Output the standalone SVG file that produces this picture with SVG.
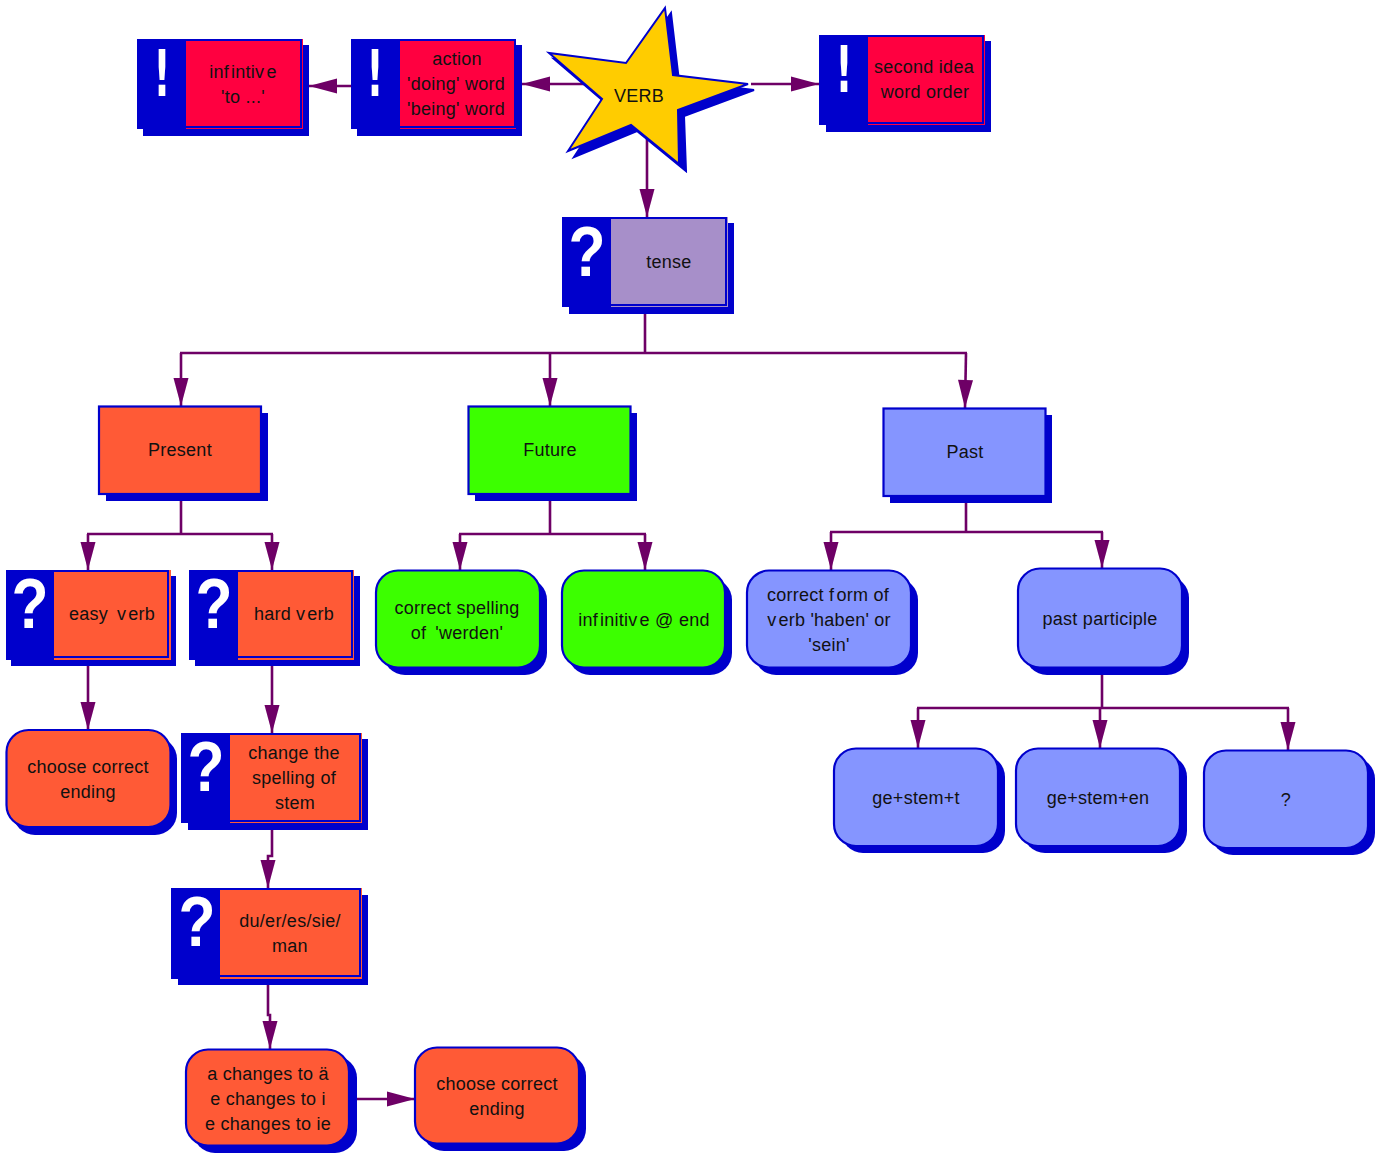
<svg xmlns="http://www.w3.org/2000/svg" width="1386" height="1153" viewBox="0 0 1386 1153">
<style>
text{font-family:"Liberation Sans",Arial,sans-serif;font-size:18px;fill:#111;text-anchor:middle;letter-spacing:.25px}
.s{fill:#0000cc}
.b{fill:#0000cc}
.o{stroke:#0000cc;stroke-width:2.200}
.red{fill:#ff0040}.org{fill:#ff5a36}.lil{fill:#a78fc9}.grn{fill:#3cff00}.blu{fill:#8595ff}.yel{fill:#ffcc00}
.f{fill:none;stroke:#0000cc;stroke-width:2}
text.g{font-family:"DejaVu Sans",sans-serif;font-weight:bold;fill:#fff;letter-spacing:0}
text.e{font-size:64px}
text.q{font-family:"Liberation Sans",sans-serif;font-size:70px}
.c{fill:none;stroke:#6e0066;stroke-width:2.600;marker-end:url(#a)}
.n{fill:none;stroke:#6e0066;stroke-width:2.600}
</style>
<defs>
<marker id="a" markerUnits="userSpaceOnUse" markerWidth="30" markerHeight="16" refX="28" refY="7.500" orient="auto" overflow="visible">
<path d="M0 0L28 7.500L0 15Z" fill="#6e0066"/>
</marker>
</defs>
<rect width="1386" height="1153" fill="#fff"/>
<g id="connectors">
<path class="c" d="M600 84H522"/>
<path class="c" d="M351 86H309"/>
<path class="c" d="M751 84H819"/>
<path class="c" d="M647 130V217"/>
<path class="n" d="M645 314V353M180 353H967"/>
<path class="c" d="M181 353V406"/>
<path class="c" d="M550 353V406"/>
<path class="c" d="M966 353L965 408"/>
<path class="n" d="M181 501V534M87 534H273"/>
<path class="c" d="M88 534V570"/>
<path class="c" d="M272 534V570"/>
<path class="n" d="M550 501V534M459 534H646"/>
<path class="c" d="M460 534V570"/>
<path class="c" d="M645 534V570"/>
<path class="n" d="M966 503V532M830 532H1103"/>
<path class="c" d="M831 532V570"/>
<path class="c" d="M1102 532V568"/>
<path class="n" d="M1102 675V708M917 708H1289"/>
<path class="c" d="M918 708V748"/>
<path class="c" d="M1100 708V748"/>
<path class="c" d="M1288 708V750"/>
<path class="c" d="M88 666V730"/>
<path class="c" d="M272 666V733"/>
<path class="c" d="M272 830V856H268V888"/>
<path class="c" d="M268 985V1015H270V1049"/>
<path class="c" d="M357 1099H415"/>
</g>
<g id="verb">
<path class="s" stroke="#0000cc" stroke-width="2" d="M671 13L679 81L754 90L684 116L686 171L637 131L574 157L608 105L554 59L632 69Z"/>
<path class="yel" stroke="#0000cc" stroke-width="2" d="M665 8L673 75L748 84L678 110L679 164L631 125L568 151L602 99L549 53L626 63Z"/>
<text x="639" y="102">VERB</text>
</g>
<g id="infintive">
<rect class="s" x="143" y="45" width="166" height="91"/><rect class="b" x="137" y="39" width="49" height="90"/><rect class="red" x="186" y="39" width="117" height="90"/><path class="f" d="M186 40H301V127H186"/>
<text class="g e" x="162" y="96" textLength="17" lengthAdjust="spacingAndGlyphs">!</text>
<text x="243" y="78">inf<tspan dx="2">intiv</tspan><tspan dx="2">e</tspan></text><text x="243" y="103">'to ...'</text>
</g>
<g id="action">
<rect class="s" x="357" y="45" width="165" height="91"/><rect class="b" x="351" y="39" width="49" height="90"/><rect class="red" x="400" y="39" width="116" height="90"/><path class="f" d="M400 40H515V127H400"/>
<text class="g e" x="375" y="96" textLength="17" lengthAdjust="spacingAndGlyphs">!</text>
<text x="457" y="65">action</text><text x="456" y="90">'doing' word</text><text x="456" y="115">'being' word</text>
</g>
<g id="second-idea">
<rect class="s" x="826" y="41" width="165" height="91"/><rect class="b" x="819" y="35" width="49" height="90"/><rect class="red" x="868" y="35" width="117" height="90"/><path class="f" d="M868 36H983V123H868"/>
<text class="g e" x="844" y="92" textLength="17" lengthAdjust="spacingAndGlyphs">!</text>
<text x="924" y="73">second idea</text><text x="925" y="98">word order</text>
</g>
<g id="tense">
<rect class="s" x="569" y="223" width="165" height="91"/><rect class="b" x="562" y="217" width="49" height="90"/><rect class="lil" x="611" y="217" width="117" height="90"/><path class="f" d="M611 218H726V305H611"/>
<text class="g q" x="587" y="276" textLength="37" lengthAdjust="spacingAndGlyphs">?</text>
<text x="669" y="268">tense</text>
</g>
<g id="present">
<rect class="s" x="106" y="413" width="162" height="88"/><rect class="org o" x="99" y="406.500" width="162" height="87.500"/>
<text x="180" y="456">Present</text>
</g>
<g id="future">
<rect class="s" x="475" y="413" width="162" height="88"/><rect class="grn o" x="468.500" y="406.500" width="162" height="87.500"/>
<text x="550" y="456">Future</text>
</g>
<g id="past">
<rect class="s" x="890" y="415" width="162" height="88"/><rect class="blu o" x="883.500" y="408.500" width="162" height="87.500"/>
<text x="965" y="458">Past</text>
</g>
<g id="easy-verb">
<rect class="s" x="11" y="576" width="165" height="90"/><rect class="b" x="6" y="570" width="48" height="90"/><rect class="org" x="54" y="570" width="117" height="90"/><path class="f" d="M54 571H168V657H54"/>
<text class="g q" x="30" y="628" textLength="37" lengthAdjust="spacingAndGlyphs">?</text>
<text x="112" y="620">easy<tspan dx="9">v</tspan><tspan dx="2">erb</tspan></text>
</g>
<g id="hard-verb">
<rect class="s" x="195" y="576" width="165" height="90"/><rect class="b" x="189" y="570" width="49" height="90"/><rect class="org" x="238" y="570" width="116" height="90"/><path class="f" d="M238 571H352V657H238"/>
<text class="g q" x="214" y="628" textLength="37" lengthAdjust="spacingAndGlyphs">?</text>
<text x="294" y="620">hard<tspan dx="5">v</tspan><tspan dx="2">erb</tspan></text>
</g>
<g id="spelling-werden">
<rect class="s" x="383" y="578" width="164" height="97" rx="22"/><rect class="grn o" x="376" y="570.500" width="164" height="97" rx="22"/>
<text x="457" y="614">correct spelling</text><text x="457" y="639">of<tspan dx="9">'werden'</tspan></text>
</g>
<g id="infinitive-end">
<rect class="s" x="568" y="578" width="164" height="97" rx="22"/><rect class="grn o" x="562" y="570.500" width="163" height="97" rx="22"/>
<text x="644" y="626">inf<tspan dx="2">initiv</tspan><tspan dx="2">e</tspan> @ end</text>
</g>
<g id="correct-form">
<rect class="s" x="754" y="578" width="164" height="97" rx="22"/><rect class="blu o" x="747" y="570.500" width="164" height="97" rx="22"/>
<text x="828" y="601">correct f<tspan dx="2">orm</tspan> of</text><text x="829" y="626">v<tspan dx="2">erb</tspan> 'haben' or</text><text x="829" y="651">'sein'</text>
</g>
<g id="past-participle">
<rect class="s" x="1025" y="576" width="164" height="99" rx="22"/><rect class="blu o" x="1018" y="568.500" width="164" height="99" rx="22"/>
<text x="1100" y="625">past participle</text>
</g>
<g id="choose-1">
<rect class="s" x="13" y="737" width="164" height="98" rx="22"/><rect class="org o" x="6.500" y="730" width="164" height="97" rx="22"/>
<text x="88" y="773">choose correct</text><text x="88" y="798">ending</text>
</g>
<g id="change-spelling">
<rect class="s" x="188" y="739" width="180" height="91"/><rect class="b" x="181" y="733" width="49" height="90"/><rect class="org" x="230" y="733" width="132" height="90"/><path class="f" d="M230 734H360V821H230"/>
<text class="g q" x="206" y="791" textLength="37" lengthAdjust="spacingAndGlyphs">?</text>
<text x="294" y="759">change the</text><text x="294" y="784">spelling of</text><text x="295" y="809">stem</text>
</g>
<g id="ge-stem-t">
<rect class="s" x="841" y="755" width="164" height="98" rx="22"/><rect class="blu o" x="834" y="748.500" width="164" height="97.500" rx="22"/>
<text x="916" y="804">ge+stem+t</text>
</g>
<g id="ge-stem-en">
<rect class="s" x="1023" y="755" width="164" height="98" rx="22"/><rect class="blu o" x="1016" y="748.500" width="164" height="97.500" rx="22"/>
<text x="1098" y="804">ge+stem+en</text>
</g>
<g id="unknown">
<rect class="s" x="1211" y="757" width="164" height="98" rx="22"/><rect class="blu o" x="1204" y="750.500" width="164" height="97.500" rx="22"/>
<text x="1286" y="806">?</text>
</g>
<g id="du-er-es">
<rect class="s" x="178" y="895" width="190" height="90"/><rect class="b" x="171" y="888" width="49" height="91"/><rect class="org" x="220" y="888" width="142" height="91"/><path class="f" d="M220 889H360V976H220"/>
<text class="g q" x="197" y="946" textLength="37" lengthAdjust="spacingAndGlyphs">?</text>
<text x="290" y="927">du/er/es/sie/</text><text x="290" y="952">man</text>
</g>
<g id="a-changes">
<rect class="s" x="193" y="1056" width="164" height="97" rx="22"/><rect class="org o" x="186" y="1049.500" width="163" height="96" rx="22"/>
<text x="268" y="1080">a changes to ä</text><text x="268" y="1105">e changes to i</text><text x="268" y="1130">e changes to ie</text>
</g>
<g id="choose-2">
<rect class="s" x="422" y="1054" width="164" height="97" rx="22"/><rect class="org o" x="415" y="1047.500" width="164" height="96" rx="22"/>
<text x="497" y="1090">choose correct</text><text x="497" y="1115">ending</text>
</g>
</svg>
